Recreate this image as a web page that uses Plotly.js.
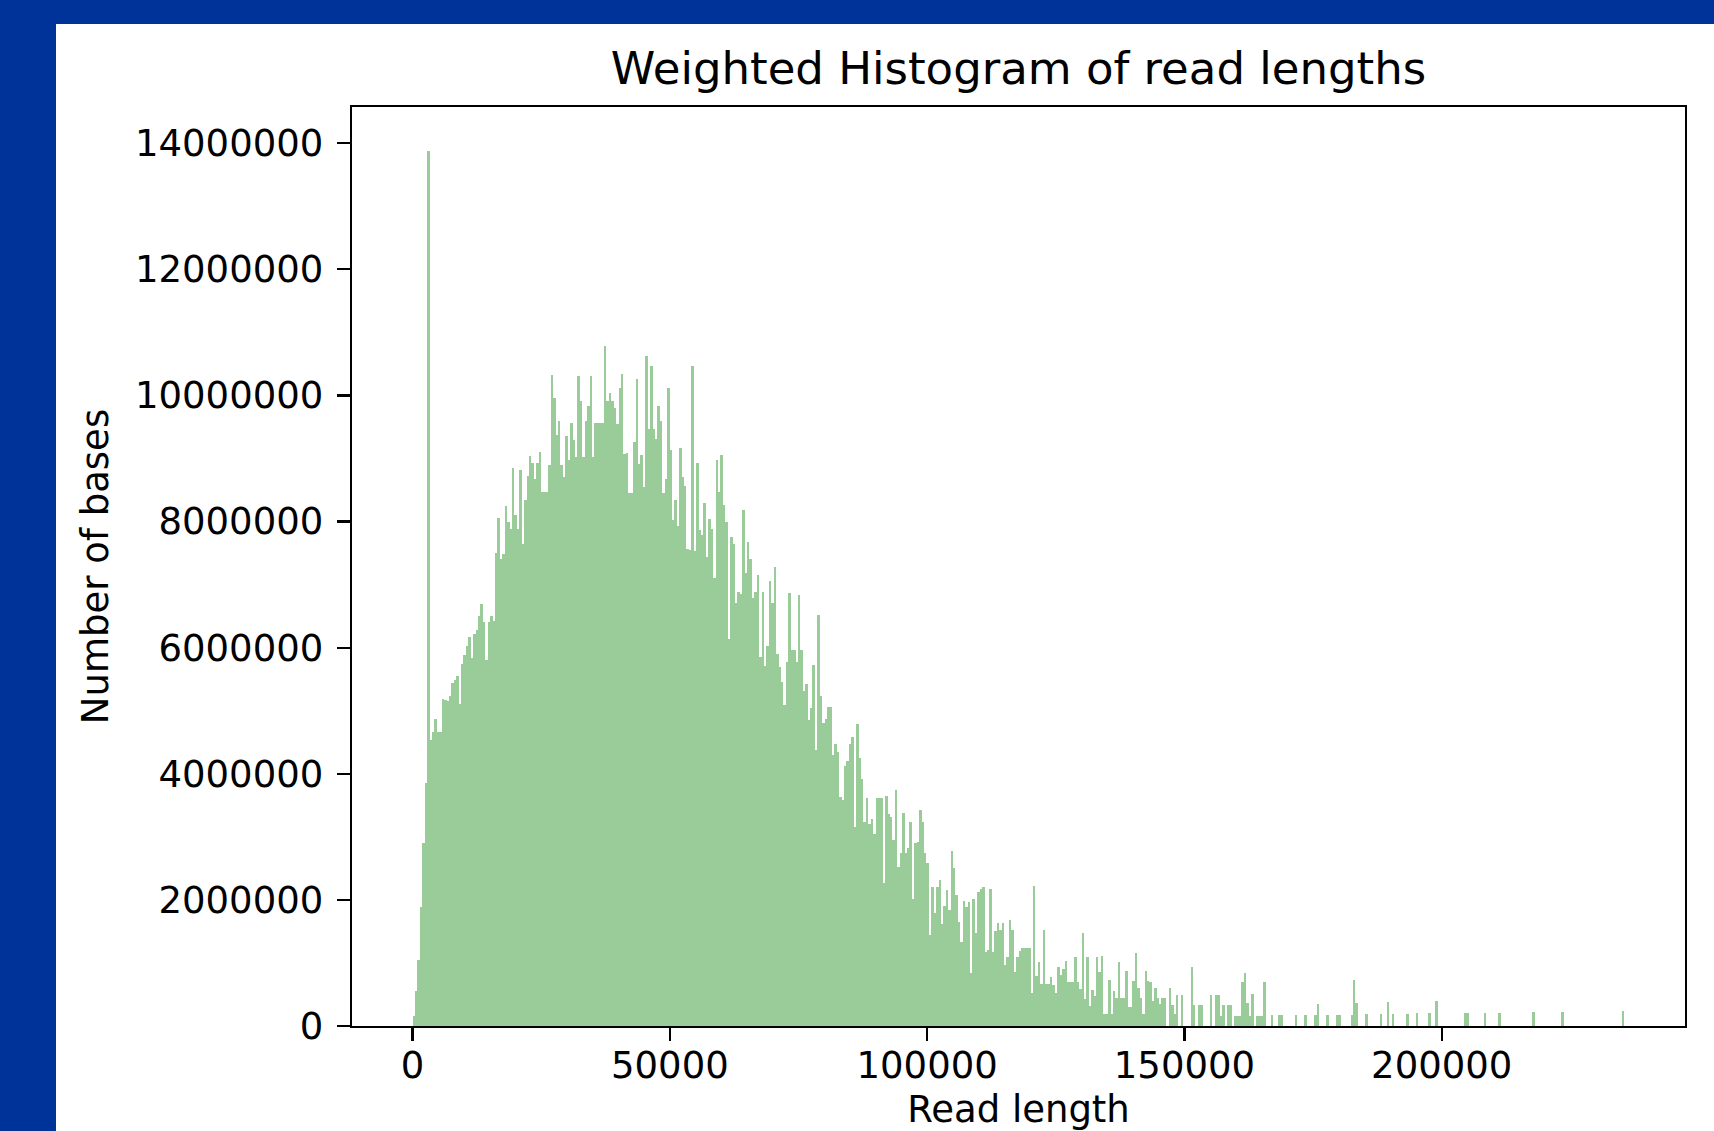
<!DOCTYPE html>
<html>
<head>
<meta charset="utf-8">
<script src="https://cdn.plot.ly/plotly-3.0.1.min.js"></script>
<style>
html,body{margin:0;padding:0;background:#003399;width:1714px;height:1131px;overflow:hidden;}
#chart{position:absolute;left:56px;top:24px;width:1658px;height:1107px;background:#ffffff;}
</style>
</head>
<body>
<div id="chart"></div>
<script>
// Histogram bins: 500 bins of equal width starting at 0 (read length)
const binStart = 0;
const binWidth = 471;

// Weighted counts (number of bases) per bin, in millions
const basesMillions = [
  0.16, 0.55, 1.05, 1.88, 2.9, 3.85, 13.88, 4.53, 4.67, 4.87,
  4.66, 4.66, 5.19, 5.17, 5.15, 5.24, 5.44, 5.49, 5.55, 5.11,
  5.74, 5.89, 6.02, 6.17, 5.83, 6.21, 6.28, 6.5, 6.69, 6.4,
  5.8, 6.4, 6.5, 6.43, 7.5, 8.06, 7.41, 7.48, 8.25, 7.99,
  7.88, 8.85, 8.11, 7.88, 8.81, 7.65, 8.34, 8.73, 9.04, 8.93,
  8.67, 8.93, 9.11, 8.47, 8.47, 8.47, 8.9, 10.32, 9.96, 9.38,
  9.6, 8.9, 8.7, 9.36, 8.98, 9.56, 9.29, 9.03, 10.31, 9.91,
  9.03, 9.6, 9.83, 10.31, 9.03, 9.56, 9.56, 9.56, 9.56, 10.78,
  9.91, 10.04, 9.91, 9.8, 9.54, 10.11, 10.34, 9.07, 9.09, 8.45,
  8.45, 9.26, 10.26, 8.91, 9.05, 8.55, 10.62, 9.47, 10.46, 9.47,
  9.31, 9.84, 9.6, 8.45, 8.67, 10.11, 9.13, 8.02, 8.34, 7.93,
  9.16, 8.7, 8.57, 7.57, 7.55, 10.47, 7.54, 8.93, 7.86, 7.79,
  8.3, 7.43, 8.04, 7.88, 7.11, 8.97, 8.47, 9.05, 8.27, 8.0,
  6.14, 7.75, 7.64, 6.71, 6.89, 6.85, 8.18, 7.18, 7.68, 7.41,
  6.78, 6.89, 7.16, 5.85, 6.89, 5.71, 6.03, 7.05, 6.71, 7.28,
  5.9, 5.69, 5.46, 5.09, 5.78, 6.86, 5.97, 5.96, 5.78, 6.84,
  5.97, 5.32, 5.42, 4.85, 5.04, 5.73, 4.38, 6.52, 5.23, 4.8,
  4.87, 5.06, 5.06, 4.29, 4.47, 4.35, 3.63, 3.58, 4.13, 4.2,
  4.47, 4.58, 3.15, 4.79, 4.25, 3.92, 3.24, 3.61, 3.2, 3.29,
  3.04, 3.61, 3.61, 3.61, 2.27, 3.65, 3.37, 3.32, 2.95, 3.74,
  2.52, 2.75, 3.38, 2.75, 2.83, 3.24, 2.02, 2.9, 2.92, 3.42,
  3.24, 2.75, 2.59, 1.45, 2.2, 1.8, 2.2, 2.31, 1.61, 1.91,
  2.15, 1.84, 2.77, 2.51, 2.08, 1.65, 1.34, 1.98, 1.88, 1.97,
  0.84, 2.02, 1.48, 2.13, 2.18, 2.2, 1.17, 1.2, 2.18, 1.17,
  1.51, 1.63, 1.52, 1.63, 0.97, 1.09, 1.68, 1.53, 0.85, 1.09,
  1.19, 1.23, 1.24, 1.24, 1.24, 0.53, 2.22, 0.79, 1.01, 0.66,
  1.52, 0.66, 0.66, 0.77, 0.65, 0.53, 0.93, 0.81, 0.9, 1.03,
  0.69, 0.69, 0.69, 1.09, 0.69, 0.59, 1.48, 0.43, 1.09, 0.32,
  0.57, 0.47, 1.09, 0.85, 1.11, 0.19, 0.19, 0.73, 0.19, 0.56,
  0.45, 1.01, 0.45, 0.45, 0.88, 0.3, 0.3, 0.72, 1.16, 0.61,
  0.45, 0.19, 0.88, 0.72, 0.69, 0.4, 0.61, 0.45, 0.35, 0.45,
  0.45, 0, 0.61, 0.33, 0.19, 0.49, 0, 0.49, 0, 0,
  0, 0.93, 0.33, 0, 0.33, 0.33, 0, 0, 0, 0.49,
  0, 0.49, 0.49, 0.16, 0.33, 0, 0.33, 0.33, 0, 0.16,
  0.16, 0.16, 0.69, 0.84, 0.37, 0.16, 0.5, 0, 0.16, 0.16,
  0.16, 0.69, 0, 0, 0.17, 0, 0, 0.17, 0.17, 0,
  0, 0, 0, 0, 0.17, 0, 0, 0, 0.17, 0,
  0, 0, 0.18, 0.35, 0, 0, 0, 0.18, 0, 0,
  0, 0.18, 0.18, 0, 0, 0, 0, 0.18, 0.73, 0.37,
  0, 0, 0, 0.19, 0, 0, 0, 0, 0, 0.19,
  0, 0, 0.38, 0, 0.19, 0, 0, 0, 0, 0,
  0.19, 0, 0, 0, 0.2, 0, 0, 0, 0, 0.2,
  0, 0, 0.4, 0, 0, 0, 0, 0, 0, 0,
  0, 0, 0, 0, 0.2, 0.2, 0, 0, 0, 0,
  0, 0, 0.21, 0, 0, 0, 0, 0, 0.21, 0,
  0, 0, 0, 0, 0, 0, 0, 0, 0, 0,
  0, 0, 0.22, 0, 0, 0, 0, 0, 0, 0,
  0, 0, 0, 0, 0.22, 0, 0, 0, 0, 0,
  0, 0, 0, 0, 0, 0, 0, 0, 0, 0,
  0, 0, 0, 0, 0, 0, 0, 0, 0, 0.24
];

const xTickValues = [0, 50000, 100000, 150000, 200000];
const yTickValues = [0, 2000000, 4000000, 6000000, 8000000, 10000000, 12000000, 14000000];

const binCenters = basesMillions.map((_, i) => binStart + (i + 0.5) * binWidth);
const binValues = basesMillions.map(v => v * 1e6);

const dataMin = binStart;
const dataMax = binStart + basesMillions.length * binWidth;
const xPad = 0.05 * (dataMax - dataMin);
const yMax = Math.max(...binValues) * 1.05;

const trace = {
  type: 'bar',
  x: binCenters,
  y: binValues,
  width: binWidth,
  marker: {color: 'rgb(153,204,153)', line: {width: 0}},
  hoverinfo: 'skip'
};

const axisCommon = {
  ticks: 'outside', ticklen: 13, tickwidth: 2.3, tickcolor: '#000',
  showline: true, linewidth: 2.3, linecolor: '#000', mirror: true,
  showgrid: false, zeroline: false,
  tickfont: {family: 'DejaVu Sans', size: 37, color: '#000'},
  tickformat: 'd'
};

const layout = {
  width: 1658, height: 1107,
  margin: {l: 296, r: 29, t: 83, b: 105, pad: 0},
  paper_bgcolor: '#ffffff', plot_bgcolor: '#ffffff',
  showlegend: false,
  bargap: 0,
  font: {family: 'DejaVu Sans', color: '#000'},
  title: {
    text: 'Weighted Histogram of read lengths',
    font: {family: 'DejaVu Sans', size: 45, color: '#000'},
    x: 0.5, xref: 'paper', xanchor: 'center',
    y: 1, yref: 'paper', yanchor: 'bottom', pad: {b: 23}
  },
  xaxis: Object.assign({}, axisCommon, {
    range: [dataMin - xPad, dataMax + xPad],
    tickvals: xTickValues,
    ticklabelstandoff: -8,
    title: {text: 'Read length', font: {family: 'DejaVu Sans', size: 37, color: '#000'}, standoff: 27}
  }),
  yaxis: Object.assign({}, axisCommon, {
    range: [0, yMax],
    tickvals: yTickValues,
    ticklabelstandoff: 6,
    title: {text: 'Number of bases', font: {family: 'DejaVu Sans', size: 37, color: '#000'}, standoff: 15}
  })
};

Plotly.newPlot('chart', [trace], layout, {staticPlot: true, displayModeBar: false});
</script>
</body>
</html>
